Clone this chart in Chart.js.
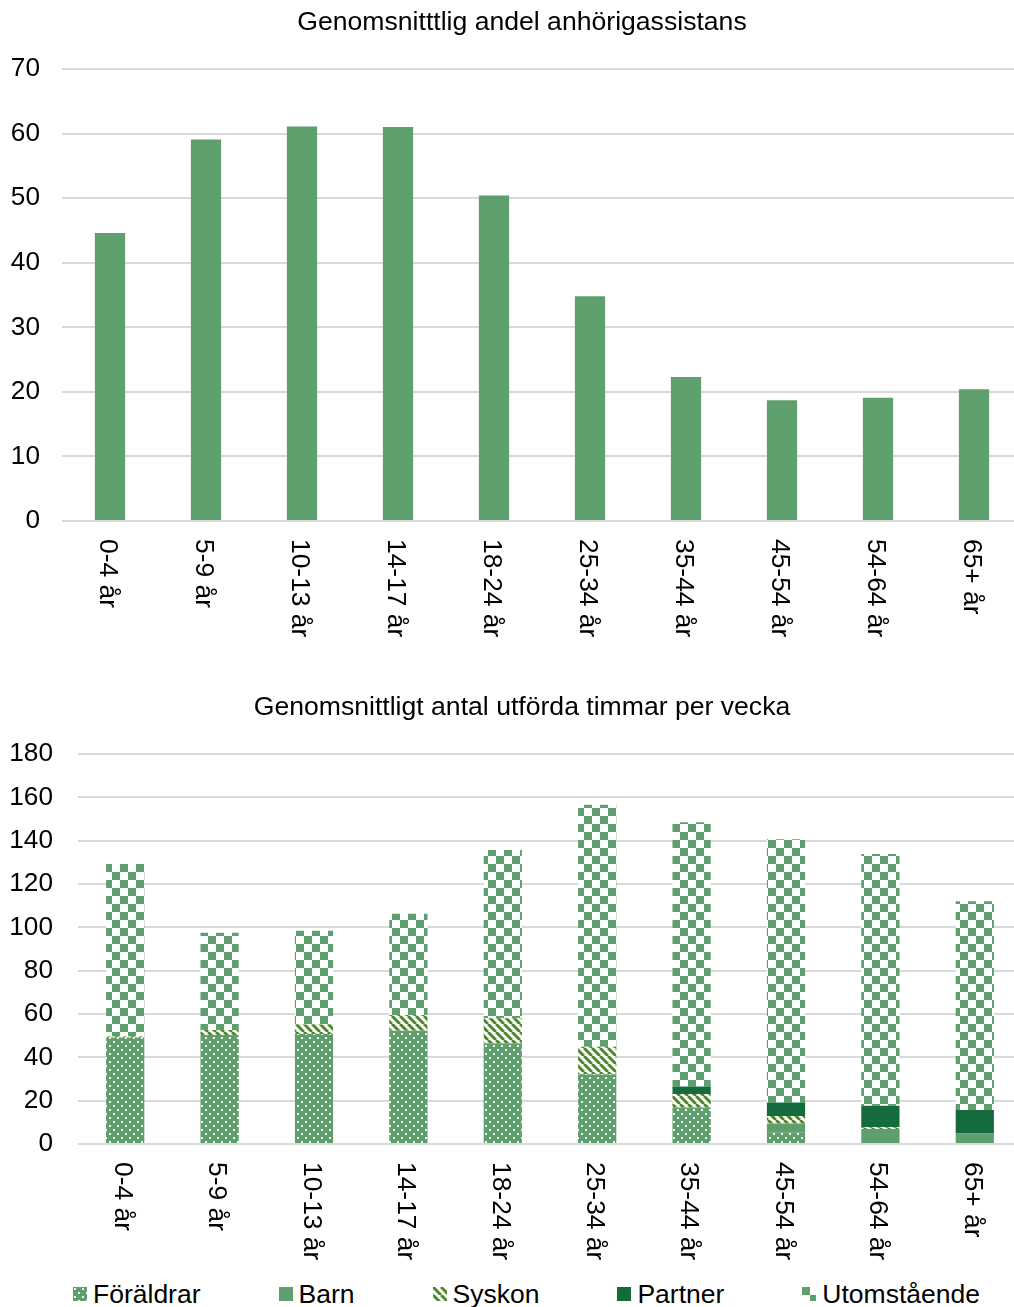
<!DOCTYPE html>
<html lang="sv">
<head>
<meta charset="utf-8">
<script src="https://cdn.jsdelivr.net/npm/chart.js@4"></script>
<style>
  body { margin: 0; background: #fff; width: 1014px; height: 1307px; overflow: hidden; position: relative; font-family: "Liberation Sans", Arial, sans-serif; }
  #box1 { position: absolute; left: 0; top: 0; }
  #box2 { position: absolute; left: 0; top: 680px; }
  .title { position: absolute; left: 0; width: 1044px; text-align: center; font-size: 26.6px; line-height: 30px; color: #000; white-space: nowrap; }
  #title1 { top: 6px; }
  #title2 { top: 691px; }
  #legend { position: absolute; left: 73px; top: 1279px; display: flex; align-items: center; font-size: 26.5px; line-height: 30px; color: #000; white-space: nowrap; }
  #legend .item { display: flex; align-items: center; margin-right: 78px; }
  #legend canvas { margin-right: 6px; }
</style>
</head>
<body>
<div id="box1"><canvas id="andelChart" width="1024" height="660"></canvas></div>
<div id="box2"><canvas id="timmarChart" width="1024" height="590"></canvas></div>
<div class="title" id="title1"></div>
<div class="title" id="title2"></div>
<div id="legend"></div>
<script>
// rubriker
const title1 = "Genomsnitttlig andel anhörigassistans";
const title2 = "Genomsnittligt antal utförda timmar per vecka";

// åldersgrupper
const ageGroups = ["0-4 år", "5-9 år", "10-13 år", "14-17 år", "18-24 år", "25-34 år", "35-44 år", "45-54 år", "54-64 år", "65+ år"];

// andel anhörigassistans (%)
const andelValues = [44.6, 59.1, 61.1, 61.0, 50.4, 34.8, 22.3, 18.7, 19.1, 20.4];

// timmar per vecka, per relation
const seriesNames = ["Föräldrar", "Barn", "Syskon", "Partner", "Utomstående"];
const foraldrar = [49.1, 50.3, 50.8, 52.3, 46.5, 32.2, 16.9, 5.2, 0, 0];
const barn = [0, 0, 0, 0, 0, 0, 0, 4.3, 6.9, 4.9];
const syskon = [0.5, 2.3, 4.4, 7.2, 11.5, 12.7, 6.2, 3.4, 0.8, 0];
const partner = [0, 0, 0, 0, 0, 0, 3.4, 6.2, 10.0, 10.8];
const utomstaende = [79.6, 44.9, 43.2, 46.8, 77.7, 111.7, 122.0, 121.5, 116.1, 96.3];

const andelTicks = { max: 70, step: 10 };
const timmarTicks = { max: 180, step: 20 };

const GREEN = "#5f9e6d";
const DARK = "#156b3d";
const OLIVE = "#4e862c";
const FONT = "'Liberation Sans', Arial, sans-serif";

document.getElementById("title1").textContent = title1;
document.getElementById("title2").textContent = title2;

// mönster till staplarna
function makePattern(kind) {
  const c = document.createElement("canvas");
  const g = c.getContext("2d");
  if (kind === "dots") {
    c.width = 8; c.height = 8;
    g.fillStyle = GREEN; g.fillRect(0, 0, 8, 8);
    g.fillStyle = "rgba(255,255,255,0.9)";
    g.fillRect(1, 1, 2, 2);
    g.fillRect(5, 5, 2, 2);
  } else if (kind === "stripes") {
    c.width = 8; c.height = 8;
    g.fillStyle = "#fff"; g.fillRect(0, 0, 8, 8);
    g.strokeStyle = OLIVE; g.lineWidth = 3;
    [-8, 0, 8].forEach((k) => {
      g.beginPath(); g.moveTo(k, 0); g.lineTo(k + 8, 8); g.stroke();
    });
  } else if (kind === "checker") {
    c.width = 16; c.height = 16;
    g.fillStyle = "#fff"; g.fillRect(0, 0, 16, 16);
    g.fillStyle = GREEN;
    g.fillRect(0, 0, 8, 8);
    g.fillRect(8, 8, 8, 8);
  }
  return g.createPattern(c, "repeat");
}

const fills = [makePattern("dots"), GREEN, makePattern("stripes"), DARK, makePattern("checker")];

// x-etiketter roterade medurs
const rotatedLabels = {
  id: "rotatedLabels",
  afterDraw(chart, args, opts) {
    const { ctx } = chart;
    const xScale = chart.scales.x;
    ctx.save();
    ctx.font = "26.4px " + FONT;
    ctx.fillStyle = "#000";
    ctx.textAlign = "left";
    ctx.textBaseline = "middle";
    chart.data.labels.forEach((lab, i) => {
      const x = xScale.getPixelForValue(i) - 3;
      ctx.save();
      ctx.translate(x, chart.chartArea.bottom + opts.offset);
      ctx.rotate(Math.PI / 2);
      ctx.fillText(lab, 0, 0);
      ctx.restore();
    });
    ctx.restore();
  },
};

function baseOptions(ticks, topPad, yWidth, xHeight, pad) {
  return {
    responsive: false,
    maintainAspectRatio: false,
    animation: false,
    layout: { padding: { top: topPad, right: 2 } },
    plugins: {
      legend: { display: false },
      tooltip: { enabled: false },
      rotatedLabels: { offset: 18 },
    },
    scales: {
      x: {
        stacked: true,
        grid: { display: false },
        border: { display: false },
        ticks: { display: false },
        afterFit(scale) { scale.height = xHeight; },
      },
      y: {
        stacked: true,
        min: 0,
        max: ticks.max,
        grid: { color: "#d9d9d9", lineWidth: 2, drawTicks: false },
        border: { display: false },
        ticks: { stepSize: ticks.step, color: "#000", padding: pad, font: { family: FONT, size: 26.2 } },
        afterFit(scale) { scale.width = yWidth; },
      },
    },
  };
}

// andel anhörigassistans
new Chart(document.getElementById("andelChart"), {
  type: "bar",
  data: {
    labels: ageGroups,
    datasets: [{
      label: "Andel",
      data: andelValues,
      backgroundColor: GREEN,
      categoryPercentage: 1,
      barPercentage: 0.315,
    }],
  },
  options: baseOptions(andelTicks, 69, 62, 139, 22),
  plugins: [rotatedLabels],
});

// timmar per vecka
const seriesData = [foraldrar, barn, syskon, partner, utomstaende];
new Chart(document.getElementById("timmarChart"), {
  type: "bar",
  data: {
    labels: ageGroups,
    datasets: seriesNames.map((name, i) => ({
      label: name,
      data: seriesData[i],
      backgroundColor: fills[i],
      categoryPercentage: 1,
      barPercentage: 0.405,
    })),
  },
  options: baseOptions(timmarTicks, 74, 78, 126, 25),
  plugins: [rotatedLabels],
});

// förklaring
const legendEl = document.getElementById("legend");
seriesNames.forEach((name, i) => {
  const item = document.createElement("div");
  item.className = "item";
  const sw = document.createElement("canvas");
  sw.width = 14; sw.height = 14;
  const g = sw.getContext("2d");
  g.fillStyle = fills[i];
  g.fillRect(0, 0, 14, 14);
  const span = document.createElement("span");
  span.textContent = name;
  item.appendChild(sw);
  item.appendChild(span);
  legendEl.appendChild(item);
});
</script>
</body>
</html>
